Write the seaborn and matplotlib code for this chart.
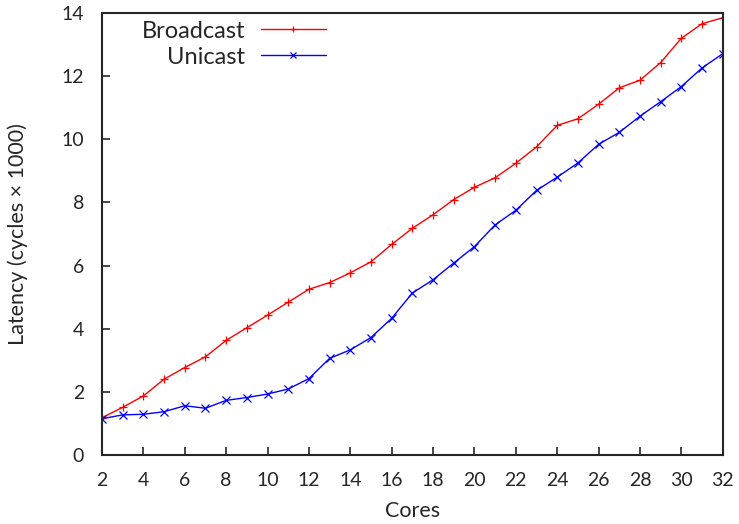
import numpy as np
import pandas as pd
import matplotlib
matplotlib.use("Agg")
import matplotlib.pyplot as plt
import seaborn as sns

cores = list(range(2, 33))
broadcast = [1.18, 1.51, 1.87, 2.40, 2.77, 3.11, 3.63, 4.03, 4.43, 4.84, 5.25, 5.46,
             5.77, 6.12, 6.67, 7.18, 7.61, 8.09, 8.48, 8.78, 9.24, 9.76, 10.44, 10.65,
             11.11, 11.63, 11.87, 12.43, 13.20, 13.66, 13.85]
unicast = [1.15, 1.27, 1.29, 1.37, 1.56, 1.48, 1.73, 1.82, 1.93, 2.09, 2.42, 3.06,
           3.33, 3.72, 4.33, 5.13, 5.55, 6.08, 6.60, 7.29, 7.75, 8.38, 8.80, 9.25,
           9.84, 10.22, 10.73, 11.19, 11.67, 12.26, 12.71]
series_names = ["Broadcast", "Unicast"]
x_ticks = list(range(2, 33, 2))
y_ticks = list(range(0, 15, 2))

df = pd.DataFrame({
    "Cores": cores * 2,
    "Latency": broadcast + unicast,
    "Series": [series_names[0]] * len(cores) + [series_names[1]] * len(cores),
})

sns.set_style("ticks")
plt.rcParams["font.family"] = ["Lato", "DejaVu Sans"]

fig = plt.figure(figsize=(7.39, 5.24), dpi=100)
ax = fig.add_axes([0.138, 0.1317, 0.840, 0.8435])

colors = {"Broadcast": "#ff0000", "Unicast": "#0000ff"}
sns.lineplot(data=df, x="Cores", y="Latency", hue="Series", style="Series",
             palette=colors,
             markers={"Broadcast": "+", "Unicast": "x"}, dashes=False,
             linewidth=1.0, markersize=6, markeredgewidth=0.9, ax=ax, legend=True)

for ln in ax.get_lines():
    ln.set_markeredgecolor(ln.get_color())
    ln.set_markerfacecolor(ln.get_color())

ax.set_xlim(2, 32)
ax.set_ylim(0, 14)
ax.set_xticks(x_ticks)
ax.set_yticks(y_ticks)
ax.tick_params(direction="in", length=6, width=1.2, labelsize=14,
               top=False, right=False)
ax.tick_params(axis="y", pad=13)
ax.tick_params(axis="x", pad=12)
for s in ax.spines.values():
    s.set_linewidth(1.5)
    s.set_visible(True)
ax.set_xlabel("Cores", fontsize=15.5, labelpad=9)
ax.set_ylabel("Latency (cycles \u00d7 1000)", fontsize=15.5, labelpad=24)

handles, labels = ax.get_legend_handles_labels()
for h in handles:
    h.set_markeredgecolor(h.get_color())
    h.set_markersize(5)
leg = ax.legend(handles, labels, loc="upper left", frameon=False, markerfirst=False,
                fontsize=17, handlelength=2.75, bbox_to_anchor=(0.03, 1.03),
                labelspacing=0.2, handletextpad=0.65)
leg._legend_box.align = "right"
for vp in leg._legend_box.get_children()[1].get_children():
    for hp in vp.get_children():
        hp.align = "right"

fig.savefig("out.png", dpi=100)
